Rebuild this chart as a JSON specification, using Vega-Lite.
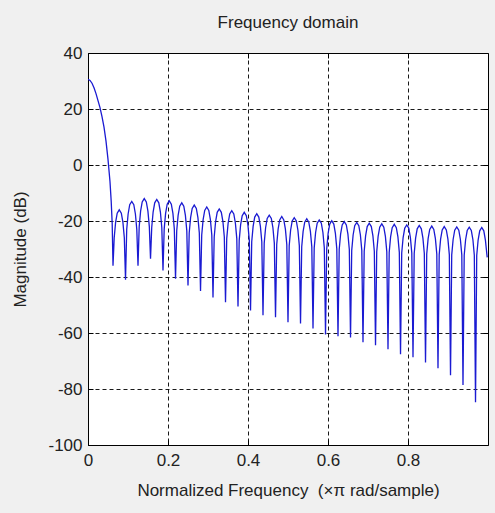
{
"$schema": "https://vega.github.io/schema/vega-lite/v6.json",
"autosize": "none",
"width": 400,
"height": 392,
"padding": {"left": 88, "top": 53, "right": 7, "bottom": 68},
"background": "#f0f0f0",
"config": {"font": "Liberation Sans", "view": {"fill": "white", "stroke": "black", "strokeWidth": 1}},
"title": {"text": "Frequency domain", "fontSize": 17, "fontWeight": "normal", "color": "#222", "offset": 12},
"data": {"values": [
{"f":0,"db":30.6},{"f":0.005,"db":30.2},{"f":0.01,"db":29.2},{"f":0.015,"db":27.6},{"f":0.02,"db":25.5},{"f":0.025,"db":23},{"f":0.03,"db":20.5},{"f":0.035,"db":17.3},{"f":0.04,"db":13.5},{"f":0.045,"db":8.5},{"f":0.05,"db":2},{"f":0.055,"db":-6},{"f":0.058,"db":-13},{"f":0.0605,"db":-21},{"f":0.0625,"db":-36},
{"f":0.0655,"db":-26},{"f":0.069,"db":-20.5},{"f":0.073,"db":-17.2},{"f":0.0781,"db":-16},{"f":0.0833,"db":-17.2},{"f":0.0873,"db":-20.5},{"f":0.0908,"db":-26},{"f":0.0938,"db":-41},
{"f":0.0968,"db":-23},{"f":0.1003,"db":-17.5},{"f":0.1043,"db":-14.2},{"f":0.1094,"db":-13},{"f":0.1145,"db":-14.2},{"f":0.1185,"db":-17.5},{"f":0.122,"db":-23},{"f":0.125,"db":-36},
{"f":0.128,"db":-22},{"f":0.1315,"db":-16.5},{"f":0.1355,"db":-13.2},{"f":0.1406,"db":-12},{"f":0.1458,"db":-13.2},{"f":0.1498,"db":-16.5},{"f":0.1533,"db":-22},{"f":0.1563,"db":-33.5},
{"f":0.1593,"db":-22.3},{"f":0.1628,"db":-16.8},{"f":0.1668,"db":-13.5},{"f":0.1719,"db":-12.3},{"f":0.177,"db":-13.5},{"f":0.181,"db":-16.8},{"f":0.1845,"db":-22.3},{"f":0.1875,"db":-37.7},
{"f":0.1905,"db":-22.8},{"f":0.194,"db":-17.3},{"f":0.198,"db":-14},{"f":0.2031,"db":-12.8},{"f":0.2083,"db":-14},{"f":0.2123,"db":-17.3},{"f":0.2158,"db":-22.8},{"f":0.2188,"db":-40.6},
{"f":0.2218,"db":-23.5},{"f":0.2253,"db":-18},{"f":0.2293,"db":-14.7},{"f":0.2344,"db":-13.5},{"f":0.2395,"db":-14.7},{"f":0.2435,"db":-18},{"f":0.247,"db":-23.5},{"f":0.25,"db":-43},
{"f":0.253,"db":-24.3},{"f":0.2565,"db":-18.8},{"f":0.2605,"db":-15.5},{"f":0.2656,"db":-14.3},{"f":0.2708,"db":-15.5},{"f":0.2748,"db":-18.8},{"f":0.2783,"db":-24.3},{"f":0.2813,"db":-45},
{"f":0.2843,"db":-25},{"f":0.2878,"db":-19.5},{"f":0.2918,"db":-16.2},{"f":0.2969,"db":-15},{"f":0.302,"db":-16.2},{"f":0.306,"db":-19.5},{"f":0.3095,"db":-25},{"f":0.3125,"db":-47.3},
{"f":0.3155,"db":-25.7},{"f":0.319,"db":-20.2},{"f":0.323,"db":-16.9},{"f":0.3281,"db":-15.7},{"f":0.3333,"db":-16.9},{"f":0.3373,"db":-20.2},{"f":0.3408,"db":-25.7},{"f":0.3438,"db":-49},
{"f":0.3468,"db":-26.3},{"f":0.3503,"db":-20.8},{"f":0.3543,"db":-17.5},{"f":0.3594,"db":-16.3},{"f":0.3645,"db":-17.5},{"f":0.3685,"db":-20.8},{"f":0.372,"db":-26.3},{"f":0.375,"db":-50.5},
{"f":0.378,"db":-26.9},{"f":0.3815,"db":-21.4},{"f":0.3855,"db":-18.1},{"f":0.3906,"db":-16.9},{"f":0.3958,"db":-18.1},{"f":0.3998,"db":-21.4},{"f":0.4033,"db":-26.9},{"f":0.4063,"db":-52},
{"f":0.4093,"db":-27.4},{"f":0.4128,"db":-21.9},{"f":0.4168,"db":-18.6},{"f":0.4219,"db":-17.4},{"f":0.427,"db":-18.6},{"f":0.431,"db":-21.9},{"f":0.4345,"db":-27.4},{"f":0.4375,"db":-53.7},
{"f":0.4405,"db":-27.9},{"f":0.444,"db":-22.4},{"f":0.448,"db":-19.1},{"f":0.4531,"db":-17.9},{"f":0.4583,"db":-19.1},{"f":0.4623,"db":-22.4},{"f":0.4658,"db":-27.9},{"f":0.4688,"db":-54.4},
{"f":0.4718,"db":-28.4},{"f":0.4753,"db":-22.9},{"f":0.4793,"db":-19.6},{"f":0.4844,"db":-18.4},{"f":0.4895,"db":-19.6},{"f":0.4935,"db":-22.9},{"f":0.497,"db":-28.4},{"f":0.5,"db":-56.2},
{"f":0.503,"db":-28.8},{"f":0.5065,"db":-23.3},{"f":0.5105,"db":-20},{"f":0.5156,"db":-18.8},{"f":0.5208,"db":-20},{"f":0.5248,"db":-23.3},{"f":0.5283,"db":-28.8},{"f":0.5313,"db":-56.6},
{"f":0.5343,"db":-29.2},{"f":0.5378,"db":-23.7},{"f":0.5418,"db":-20.4},{"f":0.5469,"db":-19.2},{"f":0.552,"db":-20.4},{"f":0.556,"db":-23.7},{"f":0.5595,"db":-29.2},{"f":0.5625,"db":-58.4},
{"f":0.5655,"db":-29.6},{"f":0.569,"db":-24.1},{"f":0.573,"db":-20.8},{"f":0.5781,"db":-19.6},{"f":0.5833,"db":-20.8},{"f":0.5873,"db":-24.1},{"f":0.5908,"db":-29.6},{"f":0.5938,"db":-60.5},
{"f":0.5968,"db":-29.9},{"f":0.6003,"db":-24.4},{"f":0.6043,"db":-21.1},{"f":0.6094,"db":-19.9},{"f":0.6145,"db":-21.1},{"f":0.6185,"db":-24.4},{"f":0.622,"db":-29.9},{"f":0.625,"db":-61.2},
{"f":0.628,"db":-30.2},{"f":0.6315,"db":-24.7},{"f":0.6355,"db":-21.4},{"f":0.6406,"db":-20.2},{"f":0.6458,"db":-21.4},{"f":0.6498,"db":-24.7},{"f":0.6533,"db":-30.2},{"f":0.6563,"db":-61.6},
{"f":0.6593,"db":-30.5},{"f":0.6628,"db":-25},{"f":0.6668,"db":-21.7},{"f":0.6719,"db":-20.5},{"f":0.677,"db":-21.7},{"f":0.681,"db":-25},{"f":0.6845,"db":-30.5},{"f":0.6875,"db":-63.3},
{"f":0.6905,"db":-30.8},{"f":0.694,"db":-25.3},{"f":0.698,"db":-22},{"f":0.7031,"db":-20.8},{"f":0.7083,"db":-22},{"f":0.7123,"db":-25.3},{"f":0.7158,"db":-30.8},{"f":0.7188,"db":-64.4},
{"f":0.7218,"db":-31},{"f":0.7253,"db":-25.5},{"f":0.7293,"db":-22.2},{"f":0.7344,"db":-21},{"f":0.7395,"db":-22.2},{"f":0.7435,"db":-25.5},{"f":0.747,"db":-31},{"f":0.75,"db":-65.8},
{"f":0.753,"db":-31.2},{"f":0.7565,"db":-25.7},{"f":0.7605,"db":-22.4},{"f":0.7656,"db":-21.2},{"f":0.7708,"db":-22.4},{"f":0.7748,"db":-25.7},{"f":0.7783,"db":-31.2},{"f":0.7813,"db":-67.6},
{"f":0.7843,"db":-31.4},{"f":0.7878,"db":-25.9},{"f":0.7918,"db":-22.6},{"f":0.7969,"db":-21.4},{"f":0.802,"db":-22.6},{"f":0.806,"db":-25.9},{"f":0.8095,"db":-31.4},{"f":0.8125,"db":-68.7},
{"f":0.8155,"db":-31.6},{"f":0.819,"db":-26.1},{"f":0.823,"db":-22.8},{"f":0.8281,"db":-21.6},{"f":0.8333,"db":-22.8},{"f":0.8373,"db":-26.1},{"f":0.8408,"db":-31.6},{"f":0.8438,"db":-70.5},
{"f":0.8468,"db":-31.8},{"f":0.8503,"db":-26.3},{"f":0.8543,"db":-23},{"f":0.8594,"db":-21.8},{"f":0.8645,"db":-23},{"f":0.8685,"db":-26.3},{"f":0.872,"db":-31.8},{"f":0.875,"db":-72.6},
{"f":0.878,"db":-32},{"f":0.8815,"db":-26.5},{"f":0.8855,"db":-23.2},{"f":0.8906,"db":-22},{"f":0.8958,"db":-23.2},{"f":0.8998,"db":-26.5},{"f":0.9033,"db":-32},{"f":0.9063,"db":-75.1},
{"f":0.9093,"db":-32.1},{"f":0.9128,"db":-26.6},{"f":0.9168,"db":-23.3},{"f":0.9219,"db":-22.1},{"f":0.927,"db":-23.3},{"f":0.931,"db":-26.6},{"f":0.9345,"db":-32.1},{"f":0.9375,"db":-78.6},
{"f":0.9405,"db":-32.2},{"f":0.944,"db":-26.7},{"f":0.948,"db":-23.4},{"f":0.9531,"db":-22.2},{"f":0.9583,"db":-23.4},{"f":0.9623,"db":-26.7},{"f":0.9658,"db":-32.2},{"f":0.9688,"db":-84.7},
{"f":0.9718,"db":-32.3},{"f":0.9753,"db":-26.8},{"f":0.9793,"db":-23.5},{"f":0.9844,"db":-22.3},{"f":0.9895,"db":-23.5},{"f":0.9935,"db":-26.8},{"f":0.998,"db":-33}
]},
"layer": [
{"mark": {"type": "line", "color": "#1a1ad2", "strokeWidth": 1.3, "clip": true},
 "encoding": {
  "x": {"field": "f", "type": "quantitative", "scale": {"domain": [0, 1], "nice": false, "zero": false},
   "axis": {"title": "Normalized Frequency \u00a0(×π rad/sample)", "values": [0, 0.2, 0.4, 0.6, 0.8], "labelExpr": "'' + datum.value",
    "grid": true, "gridColor": "black", "gridDash": [4, 3], "gridOpacity": 0.9, "domain": false,
    "tickColor": "black", "tickSize": -5, "labelPadding": 12, "labelFontSize": 17, "labelColor": "#222", "labelFlush": false,
    "titleFontSize": 17, "titleFontWeight": "normal", "titleColor": "#222", "titlePadding": 14}},
  "y": {"field": "db", "type": "quantitative", "scale": {"domain": [-100, 40], "nice": false, "zero": false},
   "axis": {"title": "Magnitude (dB)", "values": [-100, -80, -60, -40, -20, 0, 20, 40], "labelExpr": "'' + datum.value",
    "grid": true, "gridColor": "black", "gridDash": [4, 3], "gridOpacity": 0.9, "domain": false,
    "tickColor": "black", "tickSize": -5, "labelPadding": 11, "labelFontSize": 17, "labelColor": "#222", "labelFlush": false,
    "titleFontSize": 17, "titleFontWeight": "normal", "titleColor": "#222", "titlePadding": 18}}
 }},
{"mark": {"type": "line", "opacity": 0},
 "encoding": {
  "x": {"field": "f", "type": "quantitative", "scale": {"domain": [0, 1], "nice": false, "zero": false},
   "axis": {"orient": "top", "title": null, "labels": false, "grid": false, "domain": false, "values": [0.2, 0.4, 0.6, 0.8], "tickColor": "black", "tickSize": -5}},
  "y": {"field": "db", "type": "quantitative", "scale": {"domain": [-100, 40], "nice": false, "zero": false},
   "axis": {"orient": "right", "title": null, "labels": false, "grid": false, "domain": false, "values": [-80, -60, -40, -20, 0, 20], "tickColor": "black", "tickSize": -5}}
 }}
],
"resolve": {"axis": {"x": "independent", "y": "independent"}}
}
